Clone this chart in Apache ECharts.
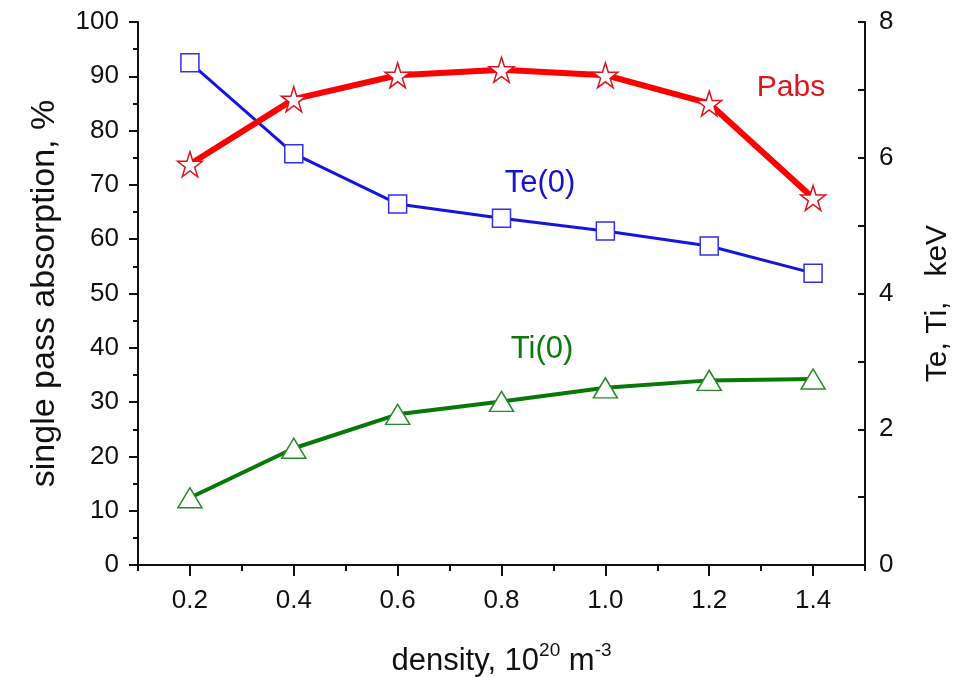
<!DOCTYPE html>
<html>
<head>
<meta charset="utf-8">
<script src="https://cdn.jsdelivr.net/npm/echarts@6/dist/echarts.min.js"></script>
<style>
  html, body { margin: 0; padding: 0; background: #fff; }
  #chart { width: 960px; height: 677px; }
</style>
</head>
<body>
<div id="chart"></div>
<script>
// density, 10^20 m^-3
var density = [0.2, 0.4, 0.6, 0.8, 1.0, 1.2, 1.4];
var densityLabels = ['0.2', '0.4', '0.6', '0.8', '1.0', '1.2', '1.4'];
// single pass absorption, %
var pabs = [73.8, 85.8, 90.2, 91.2, 90.2, 85.0, 67.6];
// central temperatures, keV
var te0 = [7.40, 6.06, 5.32, 5.11, 4.92, 4.70, 4.30];
var ti0 = [0.99, 1.72, 2.22, 2.41, 2.61, 2.72, 2.74];

function pairs(xs, ys) {
  var out = [];
  for (var i = 0; i < xs.length; i++) out.push([xs[i], ys[i]]);
  return out;
}

var starPath = 'path://M50,2 L61.2,36.3 L97.6,36.3 L68.2,57.6 L79.4,91.9 L50,70.6 L20.6,91.9 L31.8,57.6 L2.4,36.3 L38.8,36.3 Z';
var font = 'Liberation Sans, Arial, sans-serif';
var ink = '#111';

var myChart = echarts.init(document.getElementById('chart'));
myChart.setOption({
  backgroundColor: '#fff',
  animation: false,
  grid: { left: 138, right: 95, top: 22, bottom: 112, containLabel: false, outerBoundsMode: 'none' },
  xAxis: [{
    type: 'value',
    min: 0.1,
    max: 1.5,
    interval: 0.1,
    axisLine: { lineStyle: { color: ink, width: 2 } },
    axisTick: { show: true, length: 6, lineStyle: { color: ink, width: 2 } },
    axisLabel: { show: false },
    splitLine: { show: false }
  }, {
    // labelled major ticks at 0.2 … 1.4
    type: 'category',
    position: 'bottom',
    data: densityLabels,
    boundaryGap: true,
    axisLine: { show: false },
    axisTick: { show: true, alignWithLabel: true, length: 11, lineStyle: { color: ink, width: 2 } },
    axisLabel: { color: ink, fontSize: 26, fontFamily: font, margin: 23 },
    name: '{n|density, 10}{s|20}{n| m}{s|-3}',
    nameLocation: 'middle',
    nameGap: 76,
    nameTextStyle: {
      rich: {
        n: { fontSize: 31, fontFamily: font, color: ink, verticalAlign: 'bottom', lineHeight: 36 },
        s: { fontSize: 19, fontFamily: font, color: ink, verticalAlign: 'top', lineHeight: 36, padding: [0, 0, 16, 0] }
      }
    },
    splitLine: { show: false }
  }],
  yAxis: [{
    type: 'value',
    min: 0,
    max: 100,
    interval: 10,
    position: 'left',
    axisLine: { show: true, lineStyle: { color: ink, width: 2 } },
    axisTick: { show: true, length: 9, lineStyle: { color: ink, width: 2 } },
    minorTick: { show: true, splitNumber: 2, length: 5, lineStyle: { color: ink, width: 2 } },
    axisLabel: { color: ink, fontSize: 26, fontFamily: font, margin: 19 },
    splitLine: { show: false },
    name: 'single pass absorption, %',
    nameLocation: 'middle',
    nameRotate: 90,
    nameGap: 76,
    nameTextStyle: { fontSize: 34, fontFamily: font, color: ink }
  }, {
    type: 'value',
    min: 0,
    max: 8,
    interval: 2,
    position: 'right',
    axisLine: { show: true, lineStyle: { color: ink, width: 2 } },
    axisTick: { show: true, inside: true, length: 7, lineStyle: { color: ink, width: 2 } },
    minorTick: { show: true, splitNumber: 2, length: 7, lineStyle: { color: ink, width: 2 } },
    axisLabel: { color: ink, fontSize: 26, fontFamily: font, margin: 14 },
    splitLine: { show: false },
    name: 'Te, Ti,   keV',
    nameLocation: 'middle',
    nameRotate: 90,
    nameGap: 58,
    nameTextStyle: { fontSize: 30, fontFamily: font, color: ink, padding: [0, 20, 0, 0] }
  }],
  series: [{
    name: 'Te(0)',
    type: 'line',
    xAxisIndex: 0,
    yAxisIndex: 1,
    data: pairs(density, te0),
    symbol: 'rect',
    symbolSize: 18,
    lineStyle: { color: '#1515e0', width: 3 },
    itemStyle: { color: '#fff', borderColor: '#3030e8', borderWidth: 1.5 },
    z: 2
  }, {
    name: 'Ti(0)',
    type: 'line',
    xAxisIndex: 0,
    yAxisIndex: 1,
    data: pairs(density, ti0),
    symbol: 'triangle',
    symbolSize: [24, 20],
    lineStyle: { color: '#087808', width: 4 },
    itemStyle: { color: '#fff', borderColor: '#2a8a2a', borderWidth: 1.5 },
    z: 2
  }, {
    name: 'Pabs',
    type: 'line',
    xAxisIndex: 0,
    yAxisIndex: 0,
    data: pairs(density, pabs),
    symbol: starPath,
    symbolSize: 25,
    lineStyle: { color: '#ff0000', width: 6 },
    itemStyle: { color: '#fff', borderColor: '#e0141e', borderWidth: 1.5 },
    z: 3
  }],
  graphic: [
    { type: 'text', style: { x: 791, y: 88, text: 'Pabs', fill: '#e0141e', font: '30px ' + font, textAlign: 'center', textVerticalAlign: 'middle' } },
    { type: 'text', style: { x: 540, y: 183, text: 'Te(0)', fill: '#1515d0', font: '31px ' + font, textAlign: 'center', textVerticalAlign: 'middle' } },
    { type: 'text', style: { x: 542, y: 349, text: 'Ti(0)', fill: '#0a7a0a', font: '31px ' + font, textAlign: 'center', textVerticalAlign: 'middle' } }
  ]
});
</script>
</body>
</html>
